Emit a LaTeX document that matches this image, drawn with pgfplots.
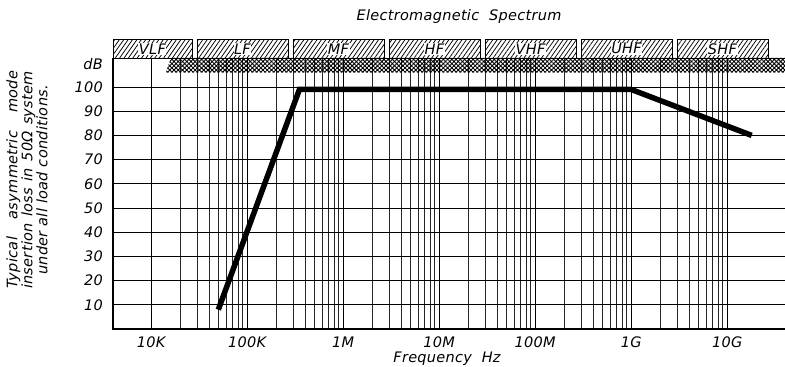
\documentclass[border=0pt]{standalone}
\usepackage{fontspec}
\setmainfont{DejaVu Sans}[LetterSpace=2]
\usepackage{pgfplots}
\pgfplotsset{compat=1.18}
\usetikzlibrary{patterns.meta}
\newcommand\cad{\fontsize{14.5}{15}\selectfont\itshape}
\begin{document}
\begin{tikzpicture}
\begin{axis}[
  scale only axis, width=672pt, height=271pt,
  at={(0,0)}, anchor=south west,
  xmode=log, xmin=4e3, xmax=4e10, ymin=0, ymax=112,
  xtick={1e4,1e5,1e6,1e7,1e8,1e9,1e10},
  xticklabels={10K,100K,1M,10M,100M,1G,10G},
  ytick={10,20,30,40,50,60,70,80,90,100},
  grid=both,
  major grid style={black, line width=0.8pt},
  minor grid style={black!85, line width=0.8pt},
  tick style={draw=none},
  axis line style={line width=0.8pt},
  clip=false,
  /pgf/number format/assume math mode=true,
  tick label style={font=\cad},
  xticklabel style={anchor=north, inner sep=0pt, yshift=-8pt},
  yticklabel style={anchor=east, inner sep=0pt, xshift=-10pt},
]
% crosshatch band
\fill[pattern={Hatch[angle=45,distance=3pt,line width=0.9pt]}] (axis cs:1.42e4,106) -- (axis cs:1.6e4,112) -- (axis cs:4e10,112) -- (axis cs:4e10,106) -- cycle;
% spectrum band boxes
\draw[line width=0.7pt, pattern={Lines[angle=55,distance=3.6pt,line width=0.75pt]}] (axis cs:4e3,112) rectangle (axis cs:2.66e4,119.6);
\draw[line width=0.7pt, pattern={Lines[angle=55,distance=3.6pt,line width=0.75pt]}] (axis cs:3e4,112) rectangle (axis cs:2.66e5,119.6);
\draw[line width=0.7pt, pattern={Lines[angle=55,distance=3.6pt,line width=0.75pt]}] (axis cs:3e5,112) rectangle (axis cs:2.66e6,119.6);
\draw[line width=0.7pt, pattern={Lines[angle=55,distance=3.6pt,line width=0.75pt]}] (axis cs:3e6,112) rectangle (axis cs:2.66e7,119.6);
\draw[line width=0.7pt, pattern={Lines[angle=55,distance=3.6pt,line width=0.75pt]}] (axis cs:3e7,112) rectangle (axis cs:2.66e8,119.6);
\draw[line width=0.7pt, pattern={Lines[angle=55,distance=3.6pt,line width=0.75pt]}] (axis cs:3e8,112) rectangle (axis cs:2.66e9,119.6);
\draw[line width=0.7pt, pattern={Lines[angle=55,distance=3.6pt,line width=0.75pt]}] (axis cs:3e9,112) rectangle (axis cs:2.66e10,119.6);
\node[font=\cad, fill=white, inner sep=0.5pt] at (axis cs:1.03e4,115.8) {VLF};
\node[font=\cad, fill=white, inner sep=0.5pt] at (axis cs:8.93e4,115.8) {LF};
\node[font=\cad, fill=white, inner sep=0.5pt] at (axis cs:8.93e5,115.8) {MF};
\node[font=\cad, fill=white, inner sep=0.5pt] at (axis cs:8.93e6,115.8) {HF};
\node[font=\cad, fill=white, inner sep=0.5pt] at (axis cs:8.93e7,115.8) {VHF};
\node[font=\cad, fill=white, inner sep=0.5pt] at (axis cs:8.93e8,115.8) {UHF};
\node[font=\cad, fill=white, inner sep=0.5pt] at (axis cs:8.93e9,115.8) {SHF};
% data
\addplot[black, line width=5.5pt, line join=miter] coordinates {(5e4,8) (3.5e5,99) (1e9,99) (1.8e10,80)};
% heavy left and bottom axis lines
\draw[line width=1.6pt] (rel axis cs:0,1) -- (rel axis cs:0,0) -- (rel axis cs:1,0);
\end{axis}
\node[font=\cad, anchor=east, inner sep=0pt] at (-10pt,265pt) {dB};
\node[font=\cad] at (346pt,312pt) {Electromagnetic\ \ Spectrum};
\node[font=\cad] at (334pt,-30pt) {Frequency\ \ Hz};
\node[font=\cad, rotate=90, align=center] at (-86pt,149pt)
  {\makebox[218pt][s]{Typical asymmetric mode}\\
   \makebox[218pt][s]{insertion loss in 50Ω system}\\
   under all load conditions.};
\pgfresetboundingbox
\path[use as bounding box] (-113pt,-38pt) rectangle (672pt,329pt);
\end{tikzpicture}
\end{document}
